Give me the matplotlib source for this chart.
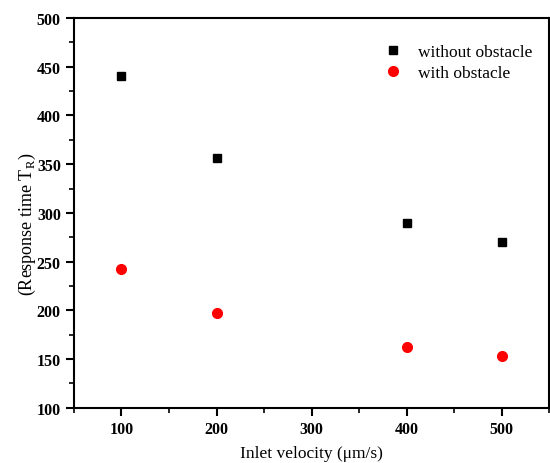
import numpy as np
import matplotlib.pyplot as plt
from matplotlib.ticker import MultipleLocator

plt.rcParams['font.family'] = ['Liberation Serif', 'DejaVu Serif']
plt.rcParams['mathtext.fontset'] = 'custom'
plt.rcParams['mathtext.rm'] = 'Liberation Serif'

velocity = [100, 200, 400, 500]
without_obstacle = [440, 356, 290, 270]
with_obstacle = [242, 197, 162, 153]

fig = plt.figure(figsize=(5.5, 4.64), dpi=100)
ax = fig.add_axes([0.1345, 0.119, 0.864, 0.84])

ax.plot(velocity, without_obstacle, 's', color='black', markersize=6, label='without obstacle')
ax.plot(velocity, with_obstacle, 'o', color='red', markersize=7, label='with obstacle')

ax.set_xlim(50, 550)
ax.set_ylim(100, 500)
ax.xaxis.set_major_locator(MultipleLocator(100))
ax.xaxis.set_minor_locator(MultipleLocator(50))
ax.yaxis.set_major_locator(MultipleLocator(50))
ax.yaxis.set_minor_locator(MultipleLocator(25))
ax.set_xticks([100, 200, 300, 400, 500])

for sp in ax.spines.values():
    sp.set_linewidth(1.5)
ax.tick_params(which='major', direction='out', length=6, width=1.5, labelsize=11.5)
ax.tick_params(which='minor', direction='out', length=3.5, width=1.2)
for lab in ax.get_xticklabels() + ax.get_yticklabels():
    lab.set_fontweight('bold')

ax.set_xlabel('Inlet velocity (\u03bcm/s)', fontsize=12.5, labelpad=6)
ax.set_ylabel('(Response time T$_\\mathregular{R}$)', fontsize=13)
ax.yaxis.set_label_coords(-0.076, 0.473)

ax.legend(loc='upper left', bbox_to_anchor=(0.62, 0.973), frameon=False,
          fontsize=12.5, handlelength=1.0, handletextpad=0.94, labelspacing=0.25)

fig.savefig('out.png', dpi=100)
